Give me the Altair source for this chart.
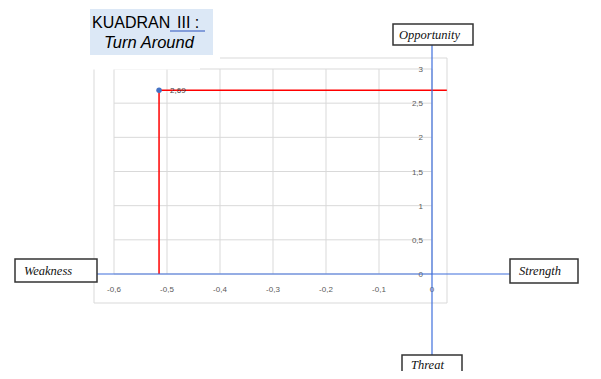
import altair as alt
import pandas as pd

# ---- data ----
point_x = [-0.515]
point_y = [2.69]
point_label = ["2,69"]
x_ticks = [-0.6, -0.5, -0.4, -0.3, -0.2, -0.1, 0.0]
x_tick_labels = ["-0,6", "-0,5", "-0,4", "-0,3", "-0,2", "-0,1", "0"]
y_ticks = [0.0, 0.5, 1.0, 1.5, 2.0, 2.5, 3.0]
y_tick_labels = ["0", "0,5", "1", "1,5", "2", "2,5", "3"]
red_right_end = 0.028
quadrant_labels = ["Opportunity", "Weakness", "Strength", "Threat"]
title_word = "KUADRAN"
title_number = "III :"
title_line2 = "Turn Around"

W, H = 585, 363
xs = alt.Scale(domain=[-0.8, 0.30377], nice=False, zero=False)
ys = alt.Scale(domain=[-1.4195, 3.8927], nice=False, zero=False)
one = pd.DataFrame({"a": [0]})
GRID = "#d9d9d9"
BLUE = "#3f6fdc"


def rect(x1, y1, x2, y2, fill, stroke=None, sw=1.0):
    kw = dict(fill=fill)
    if stroke:
        kw.update(stroke=stroke, strokeWidth=sw)
    else:
        kw.update(strokeWidth=0)
    return alt.Chart(one).mark_rect(**kw).encode(
        x=alt.value(x1), x2=alt.value(x2), y=alt.value(y1), y2=alt.value(y2))


def label(txt, x, y, **kw):
    return alt.Chart(one).mark_text(text=txt, **kw).encode(
        x=alt.value(x), y=alt.value(y))


layers = []
# chart frame
layers.append(rect(86, 50, 439, 295, "white", GRID, 1))

# gridlines
hg = pd.DataFrame({"y": y_ticks, "x1": [x_ticks[0]] * len(y_ticks), "x2": [x_ticks[-1]] * len(y_ticks)})
layers.append(alt.Chart(hg).mark_rule(color=GRID, strokeWidth=1).encode(
    x=alt.X("x1:Q", scale=xs, axis=None), x2="x2:Q",
    y=alt.Y("y:Q", scale=ys, axis=None)))
vg = pd.DataFrame({"x": x_ticks, "y1": [y_ticks[0]] * len(x_ticks), "y2": [y_ticks[-1]] * len(x_ticks)})
layers.append(alt.Chart(vg).mark_rule(color=GRID, strokeWidth=1).encode(
    x=alt.X("x:Q", scale=xs, axis=None),
    y=alt.Y("y1:Q", scale=ys, axis=None), y2="y2:Q"))

# white cover (title picture background)
layers.append(rect(80, 47, 192, 61.6, "white"))
layers.append(rect(192, 47, 212, 54, "white"))

# tick labels
xl = pd.DataFrame({"x": x_ticks, "y": [0.0] * len(x_ticks), "t": x_tick_labels})
layers.append(alt.Chart(xl).mark_text(font="Liberation Sans", fontSize=8, color="#595959",
                                      dy=16, baseline="middle").encode(
    x=alt.X("x:Q", scale=xs, axis=None), y=alt.Y("y:Q", scale=ys, axis=None), text="t:N"))
yl = pd.DataFrame({"x": [0.0] * len(y_ticks), "y": y_ticks, "t": y_tick_labels})
layers.append(alt.Chart(yl).mark_text(font="Liberation Sans", fontSize=8, color="#595959",
                                      dx=-9, dy=1, align="right", baseline="middle").encode(
    x=alt.X("x:Q", scale=xs, axis=None), y=alt.Y("y:Q", scale=ys, axis=None), text="t:N"))

# red guide lines
pdf = pd.DataFrame({"x": point_x, "y": point_y, "t": point_label,
                    "xe": [red_right_end], "y0": [0.0]})
layers.append(alt.Chart(pdf).mark_rule(color="#ff0000", strokeWidth=1.5).encode(
    x=alt.X("x:Q", scale=xs, axis=None), x2="xe:Q", y=alt.Y("y:Q", scale=ys, axis=None)))
layers.append(alt.Chart(pdf).mark_rule(color="#ff0000", strokeWidth=1.5).encode(
    x=alt.X("x:Q", scale=xs, axis=None), y=alt.Y("y:Q", scale=ys, axis=None), y2="y0:Q"))
# point + label
layers.append(alt.Chart(pdf).mark_point(filled=True, color="#4472c4", size=30, opacity=1).encode(
    x=alt.X("x:Q", scale=xs, axis=None), y=alt.Y("y:Q", scale=ys, axis=None)))
layers.append(alt.Chart(pdf).mark_text(font="Liberation Sans", fontSize=8, color="#404040",
                                       align="left", dx=11, dy=1, baseline="middle").encode(
    x=alt.X("x:Q", scale=xs, axis=None), y=alt.Y("y:Q", scale=ys, axis=None), text="t:N"))

# blue quadrant axes
layers.append(alt.Chart(pd.DataFrame({"x": [0.0]})).mark_rule(color=BLUE, strokeWidth=1.2).encode(
    x=alt.X("x:Q", scale=xs, axis=None), y=alt.value(37), y2=alt.value(H)))
layers.append(alt.Chart(pd.DataFrame({"y": [0.0]})).mark_rule(color=BLUE, strokeWidth=1.2).encode(
    y=alt.Y("y:Q", scale=ys, axis=None), x=alt.value(89), x2=alt.value(502)))

# quadrant boxes
BOX = "#333333"
tkw = dict(font="Liberation Serif", fontStyle="italic", fontSize=12.5, color="#111111",
           align="left", baseline="middle")
layers.append(rect(385, 16, 465, 37, "white", BOX, 1.5))
layers.append(label(quadrant_labels[0], 391, 26.5, **tkw))
layers.append(rect(7, 251, 89, 274, "white", BOX, 1.5))
layers.append(label(quadrant_labels[1], 16, 262.5, **tkw))
layers.append(rect(502, 251, 570, 275, "white", BOX, 1.5))
layers.append(label(quadrant_labels[2], 511, 263, **tkw))
layers.append(rect(394, 347, 454, 380, "white", BOX, 1.5))
layers.append(label(quadrant_labels[3], 403, 357, **tkw))

# title
layers.append(rect(82, 1, 205, 47, "#dce8f6"))
layers.append(label(title_word, 84, 20, font="Liberation Sans", fontSize=16, color="#000000",
                    align="left", baseline="alphabetic"))
layers.append(label(title_number, 169, 20, font="Liberation Sans", fontSize=16, color="#000000",
                    align="left", baseline="alphabetic"))
layers.append(alt.Chart(one).mark_rule(color="#2a52be", strokeWidth=1).encode(
    x=alt.value(162), x2=alt.value(197), y=alt.value(23)))
layers.append(label(title_line2, 96, 40, font="Liberation Sans", fontSize=16.5, fontStyle="italic",
                    color="#000000", align="left", baseline="alphabetic"))

chart = alt.layer(*layers).properties(
    width=W, height=H, padding=0, autosize=alt.AutoSizeParams(type="none")
).configure_view(stroke=None)

chart.save("out.html", embed_options={"renderer": "svg", "actions": False})
